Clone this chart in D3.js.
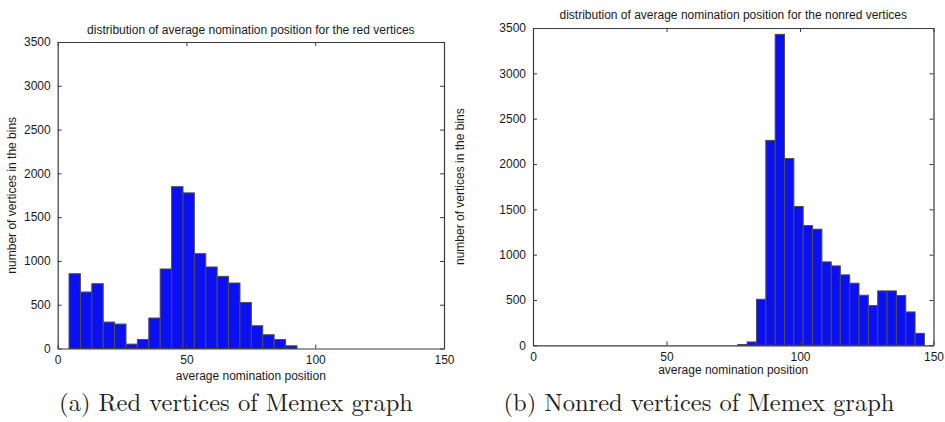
<!DOCTYPE html>
<html>
<head>
<meta charset="utf-8">
<script src="https://cdn.jsdelivr.net/npm/d3@7"></script>
<style>
  html, body { margin: 0; padding: 0; background: #fff; }
  svg { display: block; }
</style>
</head>
<body>
<svg id="chart" width="945" height="422"></svg>
<script>
// ---- data ----
const redTitle = "distribution of average nomination position for the red vertices";
const nonredTitle = "distribution of average nomination position for the nonred vertices";
const xLabel = "average nomination position";
const yLabel = "number of vertices in the bins";
const redCaption = "(a) Red vertices of Memex graph";
const nonredCaption = "(b) Nonred vertices of Memex graph";

const xTicks = [0, 50, 100, 150];
const yTicks = [0, 500, 1000, 1500, 2000, 2500, 3000, 3500];

// red vertices: bin edges and counts
const redEdges = [4.4, 8.825, 13.25, 17.675, 22.1, 26.525, 30.95, 35.375, 39.8, 44.225, 48.65,
                  53.075, 57.5, 61.925, 66.35, 70.775, 75.2, 79.625, 84.05, 88.475, 92.9];
const redCounts = [854, 645, 740, 302, 279, 50, 103, 348, 908, 1848,
                   1777, 1083, 931, 824, 748, 526, 260, 157, 103, 31];

// nonred vertices: bin edges and counts
const nonredEdges = [76.7, 80.2, 83.7, 87.2, 90.7, 94.2, 97.7, 101.2, 104.7, 108.2, 111.7,
                     115.1, 118.6, 122.1, 125.6, 129.1, 132.6, 136.1, 139.6, 143.1, 146.6];
const nonredCounts = [9, 37, 508, 2260, 3430, 2060, 1531, 1321, 1281, 920,
                      876, 777, 685, 552, 438, 600, 600, 549, 368, 132];

// ---- drawing ----
const svg = d3.select("#chart");
const FONT = "'Liberation Sans', Arial, sans-serif";
const AXIS = "#3a3a3a";
const TXT = "#1a1a1a";
const FS = 12;

function drawPanel(p) {
  const x = d3.scaleLinear().domain([0, 150]).range([p.left, p.right]);
  const y = d3.scaleLinear().domain([0, 3500]).range([p.bottom, p.top]);
  const g = svg.append("g");

  // bars
  const bins = p.counts.map((c, i) => ({x0: p.edges[i], x1: p.edges[i + 1], c}));
  g.selectAll("rect.bar").data(bins).join("rect")
    .attr("class", "bar")
    .attr("x", d => x(d.x0))
    .attr("width", d => x(d.x1) - x(d.x0))
    .attr("y", d => y(d.c))
    .attr("height", d => y(0) - y(d.c))
    .attr("fill", "#0a10f2")
    .attr("stroke", "#4d4d55")
    .attr("stroke-width", 1);

  const fmt = d3.format("d");
  // axes (ticks inside, box)
  const xb = g.append("g").attr("transform", `translate(0,${p.bottom})`)
    .call(d3.axisBottom(x).tickValues(xTicks).tickFormat(fmt).tickSizeInner(-4).tickSizeOuter(0).tickPadding(7));
  const xt = g.append("g").attr("transform", `translate(0,${p.top})`)
    .call(d3.axisTop(x).tickValues(xTicks).tickSizeInner(-4).tickSizeOuter(0).tickFormat(""));
  const yl = g.append("g").attr("transform", `translate(${p.left},0)`)
    .call(d3.axisLeft(y).tickValues(yTicks).tickFormat(fmt).tickSizeInner(-4).tickSizeOuter(0).tickPadding(7));
  const yr = g.append("g").attr("transform", `translate(${p.right},0)`)
    .call(d3.axisRight(y).tickValues(yTicks).tickSizeInner(-4).tickSizeOuter(0).tickFormat(""));

  [xb, xt, yl, yr].forEach(a => {
    a.select(".domain").attr("stroke", AXIS).attr("stroke-width", 1.2);
    a.selectAll(".tick line").attr("stroke", AXIS);
    a.selectAll("text").attr("font-family", FONT).attr("font-size", FS).attr("fill", TXT);
  });

  // title
  g.append("text").attr("x", (p.left + p.right) / 2).attr("y", p.titleY)
    .attr("text-anchor", "middle").attr("font-family", FONT).attr("font-size", FS)
    .attr("fill", TXT).text(p.title);
  // x label
  g.append("text").attr("x", (p.left + p.right) / 2).attr("y", p.xLabelY)
    .attr("text-anchor", "middle").attr("font-family", FONT).attr("font-size", FS)
    .attr("fill", TXT).text(xLabel);
  // y label
  g.append("text")
    .attr("transform", `translate(${p.yLabelX},${(p.top + p.bottom) / 2}) rotate(-90)`)
    .attr("text-anchor", "middle").attr("font-family", FONT).attr("font-size", FS)
    .attr("fill", TXT).text(yLabel);
  // caption
  g.append("text").attr("x", p.capX).attr("y", 411)
    .attr("text-anchor", "middle")
    .attr("font-family", "'Latin Modern Roman','CMU Serif','Liberation Serif','DejaVu Serif',serif")
    .attr("font-size", 24.5).attr("fill", "#222").text(p.caption);
}

drawPanel({left: 57.7, right: 444, top: 42, bottom: 348.5, edges: redEdges, counts: redCounts,
  title: redTitle, titleY: 34, xLabelY: 380, yLabelX: 16, caption: redCaption, capX: 236});
drawPanel({left: 533, right: 933.5, top: 28, bottom: 345.3, edges: nonredEdges, counts: nonredCounts,
  title: nonredTitle, titleY: 19, xLabelY: 374, yLabelX: 464, caption: nonredCaption, capX: 699});
</script>
</body>
</html>
